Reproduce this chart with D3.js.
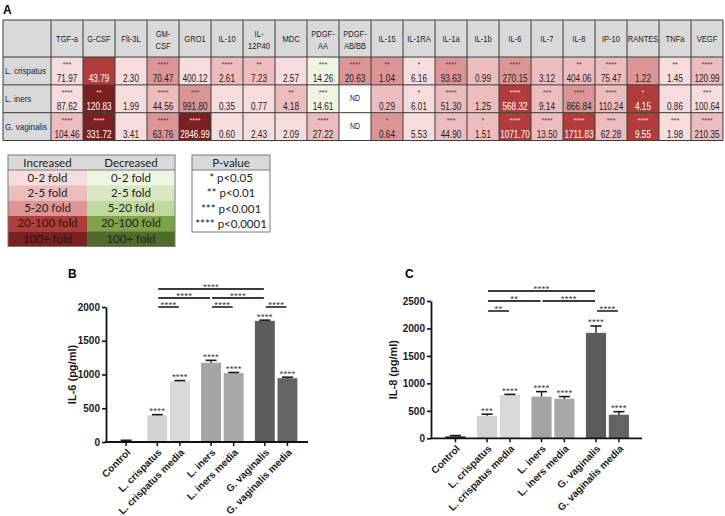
<!DOCTYPE html>
<html><head><meta charset="utf-8">
<script src="https://cdn.jsdelivr.net/npm/d3@7"></script>
<style>body{margin:0;background:#fff}svg{display:block}</style>
</head><body><svg id="c" width="725" height="516"></svg>
<script>
// ---------------- DATA ----------------
const cytokines = ["TGF-a","G-CSF","Flt-3L","GM-CSF","GRO1","IL-10","IL-12P40","MDC","PDGF-AA","PDGF-AB/BB","IL-15","IL-1RA","IL-1a","IL-1b","IL-6","IL-7","IL-8","IP-10","RANTES","TNFa","VEGF"];
const headerLabels = ["TGF-a","G-CSF","Flt-3L","GM-\nCSF","GRO1","IL-10","IL-\n12P40","MDC","PDGF-\nAA","PDGF-\nAB/BB","IL-15","IL-1RA","IL-1a","IL-1b","IL-6","IL-7","IL-8","IP-10","RANTES","TNFa","VEGF"];
const strains = ["L. crispatus","L. iners","G. vaginalis"];
const crispatusValues = ["71.97","43.79","2.30","70.47","400.12","2.61","7.23","2.57","14.26","20.63","1.04","6.16","93.63","0.99","270.15","3.12","404.06","75.47","1.22","1.45","120.99"];
const inersValues = ["87.62","120.83","1.99","44.56","991.80","0.35","0.77","4.18","14.61","ND","0.29","6.01","51.30","1.25","568.32","9.14","866.84","110.24","4.15","0.86","100.64"];
const vaginalisValues = ["104.46","331.72","3.41","63.76","2846.99","0.60","2.43","2.09","27.22","ND","0.64","5.53","44.90","1.51","1071.70","13.50","1711.83","62.28","9.55","1.98","210.35"];
const crispatusSig = ["***","","","****","","****","**","","***","****","**","*","****","","****","","**","****","","**","****"];
const inersSig = ["****","**","","****","***","","","**","***","","","*","****","","****","***","****","****","*","","***"];
const vaginalisSig = ["****","****","","****","****","","","","****","","*","","***","*","****","****","****","***","****","***","****"];
// fold-change class: 0..4 increased (0-2,2-5,5-20,20-100,100+), -1 decreased 0-2, null = ND
const crispatusFold = [0,3,0,2,0,1,1,0,-1,2,2,0,2,1,2,1,1,1,2,0,1];
const inersFold = [0,4,0,1,2,0,0,1,-1,null,1,0,1,1,3,1,2,1,3,0,0];
const vaginalisFold = [1,4,0,2,4,0,0,0,1,null,2,0,1,1,3,1,3,1,3,0,1];

const foldLabels = ["0-2 fold","2-5 fold","5-20 fold","20-100 fold","100+ fold"];
const increasedColors = ["#f6dcdc","#edbcbc","#dc9494","#b03c3c","#7b2020"];
const decreasedColors = ["#eef5e3","#d8e8c2","#c0d9a0","#7da346","#4f6b2a"];
const pValueLabels = ["* p<0.05","** p<0.01","*** p<0.001","**** p<0.0001"];

const barLabels = ["Control","L. crispatus","L. crispatus media","L. iners","L. iners media","G. vaginalis","G. vaginalis media"];
const barGroup = [0,1,1,2,2,3,3];
const barColors = ["#262626","#d2d2d2","#d8d8d8","#a4a4a4","#a8a8a8","#5c5c5c","#636363"];
const il6Means = [15,395,900,1175,1020,1795,945];
const il6Err = [10,10,10,35,10,10,15];
const il6Stars = ["","****","****","****","****","****","****"];
const il6Ticks = [0,500,1000,1500,2000];
const il6Brackets = [
  {from:1,to:5,level:0,label:"****"},
  {from:1,to:3,level:1,label:"****"},
  {from:3,to:5,level:1,label:"****"},
  {from:1,to:2,level:2,label:"****"},
  {from:3,to:4,level:2,label:"****"},
  {from:5,to:6,level:2,label:"****"}];
const il8Means = [35,410,790,760,720,1920,430];
const il8Err = [15,30,10,90,40,125,55];
const il8Stars = ["","***","****","****","****","****","****"];
const il8Ticks = [0,500,1000,1500,2000,2500];
const il8Brackets = [
  {from:1,to:5,level:0,label:"****"},
  {from:1,to:3,level:1,label:"**"},
  {from:3,to:5,level:1,label:"****"},
  {from:1,to:2,level:2,label:"**"},
  {from:5,to:6,level:2,label:"****"}];

// ---------------- DRAW ----------------
const svg = d3.select("#c");
svg.append("rect").attr("width",725).attr("height",516).attr("fill","#fff");
const TF = "'Liberation Sans', Arial, Helvetica, sans-serif";
const LF = "Lato, 'Open Sans', sans-serif";

function ctext(g,x,y,str,o={}){
  return g.append("text")
    .attr("transform",`translate(${x},${y}) scale(${o.sx||0.82},1)`)
    .attr("text-anchor",o.anchor||"middle")
    .attr("font-size",o.size||9)
    .attr("font-weight",o.weight||"normal")
    .attr("fill",o.fill||"#222")
    .text(str);
}
function foldColor(l){
  if(l===null) return "#ffffff";
  if(l<0) return decreasedColors[-l-1];
  return increasedColors[l];
}

// Panel letters
svg.append("text").attr("x",3).attr("y",13.5).attr("font-family",TF).attr("font-weight","bold").attr("font-size",12).text("A");
svg.append("text").attr("x",68).attr("y",277.5).attr("font-family",TF).attr("font-weight","bold").attr("font-size",12).text("B");
svg.append("text").attr("x",405).attr("y",277.5).attr("font-family",TF).attr("font-weight","bold").attr("font-size",12).text("C");

// ---- Table A ----
const tbl = {left:3,right:723,top:20,headBottom:57,bottom:140.5,labelRight:51};
const colX = d3.scaleBand().domain(cytokines).range([tbl.labelRight,tbl.right]);
const rowY = d3.scaleBand().domain(strains).range([tbl.headBottom,tbl.bottom]);
const tableRows = strains.map((s,i)=>({strain:s,
  values:[crispatusValues,inersValues,vaginalisValues][i],
  sig:[crispatusSig,inersSig,vaginalisSig][i],
  fold:[crispatusFold,inersFold,vaginalisFold][i]}));
const gA = svg.append("g").attr("font-family",TF);
gA.append("rect").attr("x",tbl.left).attr("y",tbl.top).attr("width",tbl.right-tbl.left).attr("height",tbl.headBottom-tbl.top).attr("fill","#d9d9d9");
gA.append("rect").attr("x",tbl.left).attr("y",tbl.headBottom).attr("width",tbl.labelRight-tbl.left).attr("height",tbl.bottom-tbl.headBottom).attr("fill","#d9d9d9");
headerLabels.forEach((h,j)=>{
  const cx = colX(cytokines[j])+colX.bandwidth()/2;
  const lines = h.split("\n");
  if(lines.length===1) ctext(gA,cx,42,lines[0],{size:9.2});
  else { ctext(gA,cx,36.5,lines[0],{size:9.2}); ctext(gA,cx,48.5,lines[1],{size:9.2}); }
});
tableRows.forEach(r=>{
  const y0 = rowY(r.strain), h = rowY.bandwidth();
  ctext(gA,5,y0+h/2+3,r.strain,{anchor:"start",size:9.8});
  cytokines.forEach((c,j)=>{
    const x0 = colX(c), w = colX.bandwidth(), f = r.fold[j];
    gA.append("rect").attr("x",x0).attr("y",y0).attr("width",w).attr("height",h).attr("fill",foldColor(f));
    const light = f!==null && f>=3;
    const cx = x0+w/2;
    if(r.values[j]==="ND"){
      ctext(gA,cx,y0+h/2+2,"ND",{size:8.5});
    } else {
      if(r.sig[j]) ctext(gA,cx,y0+10,r.sig[j],{size:8,fill:light?"#f1dede":"#444",sx:0.9});
      ctext(gA,cx,y0+h-3,r.values[j],{size:10,fill:light?"#ffffff":"#222"});
    }
  });
});
// grid
const vlines = [tbl.left,...cytokines.map(c=>colX(c)),tbl.right];
const hlines = [tbl.top,tbl.headBottom,...strains.map(s=>rowY(s)+rowY.bandwidth())];
gA.selectAll("line.v").data(vlines).join("line").attr("x1",d=>d).attr("x2",d=>d).attr("y1",tbl.top).attr("y2",tbl.bottom).attr("stroke","#3c3c3c").attr("stroke-width",1);
gA.selectAll("line.h").data(hlines).join("line").attr("x1",tbl.left).attr("x2",tbl.right).attr("y1",d=>d).attr("y2",d=>d).attr("stroke","#3c3c3c").attr("stroke-width",1);

// ---- Legend ----
const gL = svg.append("g").attr("font-family",LF).attr("font-size",11.5).attr("fill","#222");
const lg = {left:8,mid:87,right:175,top:155,head:15,row:15.3};
gL.append("rect").attr("x",lg.left).attr("y",lg.top).attr("width",lg.right-lg.left).attr("height",lg.head).attr("fill","#d9d9d9");
gL.append("text").attr("x",(lg.left+lg.mid)/2).attr("y",lg.top+11.5).attr("text-anchor","middle").text("Increased");
gL.append("text").attr("x",(lg.mid+lg.right)/2).attr("y",lg.top+11.5).attr("text-anchor","middle").text("Decreased");
foldLabels.forEach((lab,i)=>{
  const y0 = lg.top+lg.head+i*lg.row;
  gL.append("rect").attr("x",lg.left).attr("y",y0).attr("width",lg.mid-lg.left).attr("height",lg.row).attr("fill",increasedColors[i]);
  gL.append("rect").attr("x",lg.mid).attr("y",y0).attr("width",lg.right-lg.mid).attr("height",lg.row).attr("fill",decreasedColors[i]);
  gL.append("text").attr("x",(lg.left+lg.mid)/2).attr("y",y0+11.5).attr("text-anchor","middle").attr("fill",i>=3?"#2a1414":"#222").text(lab);
  gL.append("text").attr("x",(lg.mid+lg.right)/2).attr("y",y0+11.5).attr("text-anchor","middle").attr("fill","#222").text(lab);
});
const lgBottom = lg.top+lg.head+foldLabels.length*lg.row;
gL.append("rect").attr("x",lg.left).attr("y",lg.top).attr("width",lg.right-lg.left).attr("height",lgBottom-lg.top).attr("fill","none").attr("stroke","#7a7a7a").attr("stroke-width",1);
gL.append("line").attr("x1",lg.left).attr("x2",lg.right).attr("y1",lg.top+lg.head).attr("y2",lg.top+lg.head).attr("stroke","#7a7a7a");

const pv = {left:192,right:270,top:155,head:15,row:15.5};
gL.append("rect").attr("x",pv.left).attr("y",pv.top).attr("width",pv.right-pv.left).attr("height",pv.head).attr("fill","#d9d9d9");
gL.append("text").attr("x",(pv.left+pv.right)/2).attr("y",pv.top+11.5).attr("text-anchor","middle").text("P-value");
pValueLabels.forEach((lab,i)=>{
  gL.append("text").attr("x",(pv.left+pv.right)/2).attr("y",pv.top+pv.head+i*pv.row+11.5).attr("text-anchor","middle").text(lab);
});
const pvBottom = pv.top+pv.head+pValueLabels.length*pv.row;
gL.append("rect").attr("x",pv.left).attr("y",pv.top).attr("width",pv.right-pv.left).attr("height",pvBottom-pv.top).attr("fill","none").attr("stroke","#7a7a7a");
gL.append("line").attr("x1",pv.left).attr("x2",pv.right).attr("y1",pv.top+pv.head).attr("y2",pv.top+pv.head).attr("stroke","#7a7a7a");

// ---- Bar charts ----
const groupGap = 0.38;
const slots = barLabels.map((d,i)=>i+groupGap*barGroup[i]);
function drawBarChart(cfg){
  const g = svg.append("g").attr("font-family",TF);
  const x = d3.scaleLinear().domain(cfg.xDomain).range([cfg.left,cfg.right]);
  const unit = x(1)-x(0), bw = unit*0.88, cw = bw*0.55;
  const y = d3.scaleLinear().domain([0,cfg.yMax]).range([cfg.bottom,cfg.top]);
  // bars
  g.selectAll("rect.bar").data(cfg.means).join("rect").attr("class","bar")
    .attr("x",(d,i)=>x(slots[i])-bw/2).attr("y",d=>y(d))
    .attr("width",bw).attr("height",d=>y(0)-y(d)).attr("fill",(d,i)=>barColors[i]);
  // error bars
  cfg.means.forEach((m,i)=>{
    const cx = x(slots[i]), top = y(m+cfg.errs[i]);
    g.append("line").attr("x1",cx).attr("x2",cx).attr("y1",y(m)).attr("y2",top).attr("stroke","#1a1a1a").attr("stroke-width",1.4);
    g.append("line").attr("x1",cx-cw/2).attr("x2",cx+cw/2).attr("y1",top).attr("y2",top).attr("stroke","#1a1a1a").attr("stroke-width",1.6);
    if(cfg.stars[i]) g.append("text").attr("x",cx).attr("y",top-0.5).attr("text-anchor","middle")
      .attr("font-size",9.5).attr("fill","#3a3a3a").attr("letter-spacing",0.3).text(cfg.stars[i]);
  });
  // y axis
  const ax = g.append("g").attr("transform",`translate(${cfg.left},0)`)
    .call(d3.axisLeft(y).tickValues(cfg.ticks).tickSize(4).tickSizeOuter(0).tickPadding(2).tickFormat(d3.format("d")));
  ax.select(".domain").attr("stroke","#111").attr("stroke-width",1.8);
  ax.selectAll(".tick line").attr("stroke","#111").attr("stroke-width",1.6);
  ax.selectAll(".tick text").attr("font-family",TF).attr("font-weight","bold").attr("font-size",10).attr("fill","#1a1a1a");
  // x axis
  g.append("line").attr("x1",cfg.left-0.9).attr("x2",cfg.right).attr("y1",y(0)).attr("y2",y(0)).attr("stroke","#111").attr("stroke-width",1.8);
  barLabels.forEach((lab,i)=>{
    const cx = x(slots[i]);
    g.append("line").attr("x1",cx).attr("x2",cx).attr("y1",y(0)).attr("y2",y(0)+4).attr("stroke","#111").attr("stroke-width",1.5);
    g.append("text").attr("transform",`translate(${cx+5},${y(0)+11}) rotate(-45)`)
      .attr("text-anchor","end").attr("font-weight","bold").attr("font-size",10).attr("fill","#1a1a1a").text(lab);
  });
  // y label
  g.append("text").attr("transform",`translate(${cfg.yLabelX},${(y(0)+y(cfg.yMax))/2}) rotate(-90)`)
    .attr("text-anchor","middle").attr("font-weight","bold").attr("font-size",11).attr("fill","#1a1a1a").text(cfg.yLabel);
  // brackets
  cfg.brackets.forEach(b=>{
    const ly = cfg.bracketTop + b.level*cfg.bracketStep;
    const x1 = x(slots[b.from])+1, x2 = x(slots[b.to])-1;
    g.append("line").attr("x1",x1).attr("x2",x2).attr("y1",ly).attr("y2",ly).attr("stroke","#3a3a3a").attr("stroke-width",1.8);
    g.append("text").attr("x",(x1+x2)/2).attr("y",ly+0.5).attr("text-anchor","middle")
      .attr("font-size",9.5).attr("fill","#3a3a3a").attr("letter-spacing",0.3).text(b.label);
  });
}
drawBarChart({left:106,right:308,bottom:442,top:307,yMax:2000,ticks:il6Ticks,xDomain:[-0.89,8.05],
  means:il6Means,errs:il6Err,stars:il6Stars,brackets:il6Brackets,bracketTop:289,bracketStep:9,
  yLabel:"IL-6 (pg/ml)",yLabelX:76});
drawBarChart({left:431,right:642,bottom:438.3,top:301,yMax:2500,ticks:il8Ticks,xDomain:[-1.07,8.15],
  means:il8Means,errs:il8Err,stars:il8Stars,brackets:il8Brackets,bracketTop:291,bracketStep:10,
  yLabel:"IL-8 (pg/ml)",yLabelX:397});
</script></body></html>
